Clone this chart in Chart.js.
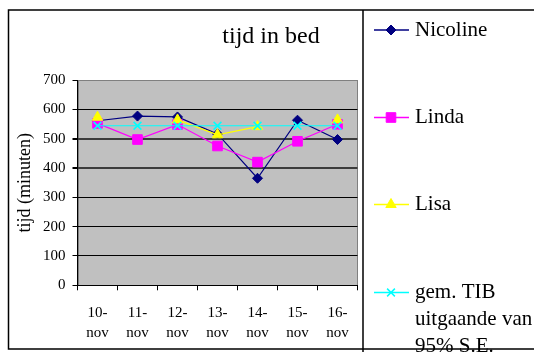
<!DOCTYPE html>
<html>
<head>
<meta charset="utf-8">
<script src="https://cdn.jsdelivr.net/npm/chart.js@4/dist/chart.umd.min.js"></script>
<style>
  html, body { margin: 0; padding: 0; background: #fff; }
  canvas { display: block; }
</style>
</head>
<body>
<canvas id="c" width="534" height="352"></canvas>
<script>
// Days of the week in November
const days = ['10-nov', '11-nov', '12-nov', '13-nov', '14-nov', '15-nov', '16-nov'];

// Time in bed, minutes per night
const nicoline = [561, 577, 574, 516, 365, 563, 497];
const linda    = [552, 497, 548, 475, 420, 491, 549];
const lisa     = [573, null, 564, 513, 541, null, 564];
const gemTIB   = [544, 544, 544, 544, 544, 544, 544];

const yTicks = [0, 100, 200, 300, 400, 500, 600, 700];

const chartTitle = 'tijd in bed';
const yTitle = 'tijd (minuten)';

const SERIF = "'Liberation Serif', 'Times New Roman', Times, serif";

// Grey plot background plus the outer frame, title and legend panel
const decor = {
  id: 'decor',
  beforeDraw(chart) {
    const { ctx, chartArea: a } = chart;
    ctx.save();
    ctx.fillStyle = '#c0c0c0';
    ctx.fillRect(a.left, a.top, a.right - a.left, a.bottom - a.top);
    ctx.strokeStyle = '#808080';
    ctx.lineWidth = 1;
    ctx.strokeRect(Math.round(a.left) + 0.5, Math.round(a.top) + 0.5,
                   Math.round(a.right - a.left) - 1, Math.round(a.bottom - a.top));
    ctx.restore();
  },
  afterDraw(chart) {
    const { ctx } = chart;
    ctx.save();

    // title
    ctx.fillStyle = '#000';
    ctx.font = '24px ' + SERIF;
    ctx.textAlign = 'center';
    ctx.textBaseline = 'alphabetic';
    ctx.fillText(chartTitle, 271, 43);

    // legend entries
    const rowY = [30, 117.5, 204.5, 292.5];
    ctx.font = '21px ' + SERIF;
    ctx.textAlign = 'left';
    ctx.textBaseline = 'middle';
    chart.data.datasets.forEach((ds, i) => {
      const y = rowY[i];
      ctx.strokeStyle = ds.borderColor;
      ctx.lineWidth = 1.5;
      ctx.beginPath();
      ctx.moveTo(374, y);
      ctx.lineTo(409, y);
      ctx.stroke();
      ctx.fillStyle = ds.pointBackgroundColor;
      ctx.strokeStyle = ds.pointBorderColor;
      const opts = { pointStyle: ds.pointStyle, radius: ds.pointRadius, rotation: 0, borderWidth: ds.pointBorderWidth };
      if (Chart.helpers && Chart.helpers.drawPoint) {
        ctx.lineWidth = ds.pointBorderWidth;
        Chart.helpers.drawPoint(ctx, opts, 391, y);
      }
      // wrap the label to the panel width
      ctx.fillStyle = '#000';
      const words = ds.label.split(' ');
      const lines = [];
      let cur = '';
      words.forEach(w => {
        const test = cur ? cur + ' ' + w : w;
        if (ctx.measureText(test).width > 121 && cur) { lines.push(cur); cur = w; }
        else cur = test;
      });
      if (cur) lines.push(cur);
      lines.forEach((t, k) => ctx.fillText(t, 415, y + k * 27));
    });

    // outer frame and panel divider
    ctx.strokeStyle = '#000';
    ctx.lineWidth = 1.5;
    ctx.beginPath();
    ctx.moveTo(534, 10);
    ctx.lineTo(8.5, 10);
    ctx.lineTo(8.5, 349);
    ctx.lineTo(534, 349);
    ctx.moveTo(363, 10);
    ctx.lineTo(363, 352);
    ctx.stroke();
    ctx.restore();
  }
};

new Chart(document.getElementById('c'), {
  type: 'line',
  data: {
    labels: days,
    datasets: [
      {
        label: 'Nicoline', data: nicoline, order: 4,
        borderColor: '#000080', borderWidth: 1.2,
        pointStyle: 'rectRot', pointRadius: 5,
        pointBackgroundColor: '#000080', pointBorderColor: '#000080', pointBorderWidth: 1
      },
      {
        label: 'Linda', data: linda, order: 3,
        borderColor: '#ff00ff', borderWidth: 1.2,
        pointStyle: 'rect', pointRadius: 6.8,
        pointBackgroundColor: '#ff00ff', pointBorderColor: '#ff00ff', pointBorderWidth: 1
      },
      {
        label: 'Lisa', data: lisa, order: 2, spanGaps: false,
        borderColor: '#ffff00', borderWidth: 1.2,
        pointStyle: 'triangle', pointRadius: 6,
        pointBackgroundColor: '#ffff00', pointBorderColor: '#ffff00', pointBorderWidth: 1
      },
      {
        label: 'gem. TIB uitgaande van 95% S.E.', data: gemTIB, order: 1,
        borderColor: '#00ffff', borderWidth: 1.2,
        pointStyle: 'crossRot', pointRadius: 5.5,
        pointBackgroundColor: '#00ffff', pointBorderColor: '#00ffff', pointBorderWidth: 1.5
      }
    ]
  },
  options: {
    responsive: false,
    animation: false,
    devicePixelRatio: 1,
    layout: { padding: { left: 0, right: 176.5, top: 80, bottom: 6.7 } },
    plugins: { legend: { display: false }, tooltip: { enabled: false }, title: { display: false } },
    elements: { line: { tension: 0 } },
    scales: {
      x: {
        type: 'category',
        offset: true,
        grid: { offset: true, drawOnChartArea: false, drawTicks: true, tickLength: 5, tickColor: '#000', tickWidth: 1 },
        border: { color: '#000', width: 1 },
        ticks: {
          color: '#000',
          font: { family: SERIF, size: 15, lineHeight: 1.33 },
          padding: 13,
          maxRotation: 0,
          autoSkip: false,
          callback(value) {
            const parts = this.getLabelForValue(value).split('-');
            return [parts[0] + '-', parts[1]];
          }
        },
        afterFit(scale) { scale.height = 60; }
      },
      y: {
        min: 0,
        max: 700,
        afterBuildTicks(scale) { scale.ticks = yTicks.map(v => ({ value: v })); },
        grid: {
          drawTicks: true,
          tickLength: 5,
          tickColor: '#000',
          color(ctx) {
            const v = ctx.tick && ctx.tick.value;
            if (v === 700) return '#808080';
            if (v === 400 || v === 500) return '#3c3c3c';
            return '#000';
          },
          lineWidth(ctx) {
            const v = ctx.tick && ctx.tick.value;
            return (v === 400 || v === 500) ? 2 : 1;
          }
        },
        border: { color: '#000', width: 1 },
        ticks: { color: '#000', font: { family: SERIF, size: 15 }, padding: 7 },
        title: {
          display: true,
          text: yTitle,
          color: '#000',
          font: { family: SERIF, size: 18 },
          padding: { top: 14, bottom: 0 }
        },
        afterFit(scale) { scale.width = 77.5; }
      }
    }
  },
  plugins: [decor]
});
</script>
</body>
</html>
